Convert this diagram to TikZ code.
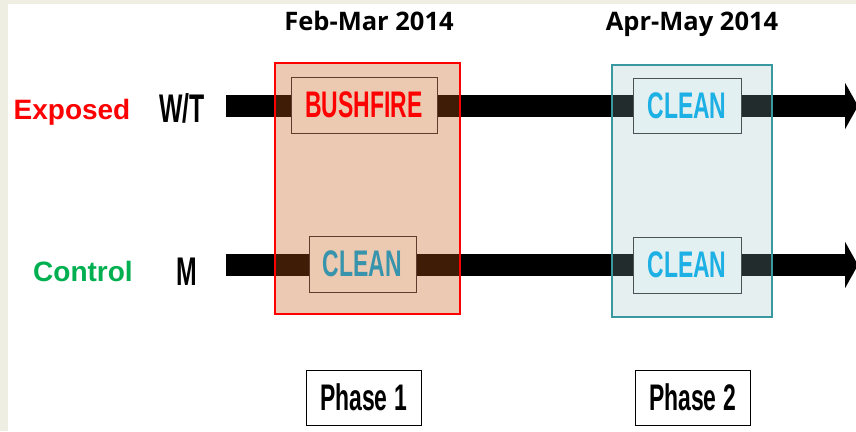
\documentclass[tikz,border=0pt]{standalone}
\usepackage{fontspec}
\setmainfont{Liberation Sans}
\newfontfamily\narrowfont[FakeStretch=0.62]{Liberation Sans}
\newfontfamily\datefont{Open Sans}
\usetikzlibrary{arrows.meta}
\definecolor{bgbeige}{RGB}{238,238,226}
\definecolor{fireorange}{RGB}{194,88,19}
\definecolor{cleangrey}{RGB}{145,190,195}
\definecolor{peachbox}{RGB}{236,201,177}
\definecolor{icebox}{RGB}{227,240,242}
\definecolor{boxbrown}{RGB}{95,60,45}
\definecolor{boxgrey}{RGB}{75,82,82}
\definecolor{cleanteal}{RGB}{55,148,172}
\definecolor{cleanblue}{RGB}{28,176,228}
\definecolor{phasetwoedge}{RGB}{58,152,160}
\definecolor{ctrlgreen}{RGB}{0,176,80}
\begin{document}
\begin{tikzpicture}[x=1pt, y=-1pt,
  datelabel/.style={font=\datefont\bfseries\fontsize{25.5}{30}\selectfont, anchor=base},
  grouplabel/.style={font=\bfseries\fontsize{28}{32}\selectfont, anchor=base},
  sitelabel/.style={font=\narrowfont\bfseries\fontsize{40}{44}\selectfont, anchor=base},
  eventbox/.style={draw, line width=1pt, inner sep=0pt, font=\narrowfont\bfseries\fontsize{37}{40}\selectfont},
  phasebox/.style={draw=black, line width=1pt, fill=white, inner sep=0pt, minimum width=115pt, minimum height=55pt, font=\narrowfont\bfseries\fontsize{37}{40}\selectfont},
  timeline/.style={line width=22pt, -{Triangle[width=46pt,length=13pt]}}]
% Hintergrund
\fill[bgbeige] (0,0) rectangle (856,431);
\fill[white] (8,4) rectangle (856,431);
\useasboundingbox (0,0) rectangle (856,431);
% Gruppen
\node[grouplabel, red] (exposed) at (72,119) {Exposed};
\node[grouplabel, ctrlgreen] (control) at (83,281) {Control};
\node[sitelabel] (wt) at (182,122) {W/T};
\node[sitelabel] (m) at (187,285) {M};
% Zeitachsen
\coordinate (wt-start) at (226,106);
\coordinate (wt-end) at (858,106);
\coordinate (m-start) at (226,265);
\coordinate (m-end) at (858,265);
\draw[timeline] (wt-start) -- (wt-end);
\draw[timeline] (m-start) -- (m-end);
% Phasen
\node[draw=red, line width=2pt, fill=fireorange, fill opacity=0.32, minimum width=185pt, minimum height=251pt] (phase1) at (367.5,188.5) {};
\node[draw=phasetwoedge, line width=2pt, fill=cleangrey, fill opacity=0.235, minimum width=160pt, minimum height=252pt] (phase2) at (692,191) {};
\node[eventbox, draw=boxbrown, fill=peachbox, text=red, minimum width=146pt, minimum height=56pt] (fire) at (364,105) {BUSHFIRE};
\node[eventbox, draw=boxbrown, fill=peachbox, text=cleanteal, minimum width=107pt, minimum height=56pt] (clean1) at (362.5,264) {CLEAN};
\node[eventbox, draw=boxgrey, fill=icebox, text=cleanblue, minimum width=108pt, minimum height=55pt] (clean2) at (687,105.5) {CLEAN};
\node[eventbox, draw=boxgrey, fill=icebox, text=cleanblue, minimum width=108pt, minimum height=56pt] (clean3) at (687,265) {CLEAN};
% Beschriftung
\node[datelabel] (feb) at (369,30) {Feb-Mar 2014};
\node[datelabel] (apr) at (692,30) {Apr-May 2014};
\node[phasebox] (ph1) at (363.5,397.5) {Phase 1};
\node[phasebox] (ph2) at (692.5,397.5) {Phase 2};
\end{tikzpicture}
\end{document}
